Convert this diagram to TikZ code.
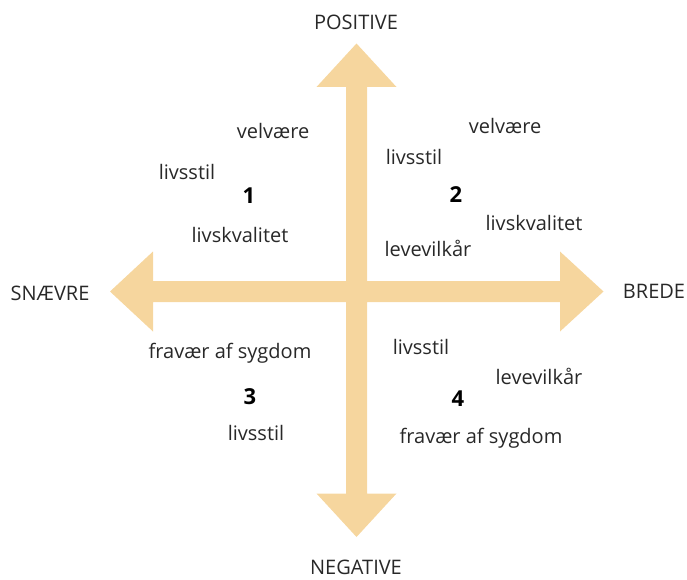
\documentclass[tikz,border=0pt]{standalone}
\usepackage{fontspec}
\setmainfont{Open Sans}
\definecolor{crossfill}{RGB}{246,214,158}
\definecolor{labeltext}{RGB}{40,40,40}

\begin{document}
\begin{tikzpicture}[x=1pt, y=-1pt,
    word/.style={text=labeltext, inner sep=0pt, font=\fontsize{20}{23}\selectfont},
    quad/.style={text=black, inner sep=0pt, font=\fontsize{22}{25}\selectfont\bfseries}]
    \useasboundingbox (0,0) rectangle (687,580);

    % Cross
    \fill[crossfill] (346,87) -- (316.5,87) -- (356.5,43.5) -- (396.5,87) -- (367,87)
        -- (367,281) -- (560,281) -- (560,251.5) -- (603.5,291.5) -- (560,331.5) -- (560,302)
        -- (367,302) -- (367,493.5) -- (396.5,493.5) -- (356.5,537) -- (316.5,493.5) -- (346,493.5)
        -- (346,302) -- (153,302) -- (153,331.5) -- (110,291.5) -- (153,251.5) -- (153,281)
        -- (346,281) -- cycle;
    \node[word] (pos) at (356,22.5) {POSITIVE};
    \node[word] (neg) at (356,567.5) {NEGATIVE};
    \node[word] (snae) at (50,293) {SNÆVRE};
    \node[word] (brede) at (654,291.5) {BREDE};

    % Quadrant 1
    \node[word] (velvA) at (273,131) {velvære};
    \node[word] (livsA) at (187,172) {livsstil};
    \node[quad] (one) at (249,196) {1};
    \node[word] (kvalA) at (240,235) {livskvalitet};

    % Quadrant 2
    \node[word] (velvB) at (505,126) {velvære};
    \node[word] (livsB) at (414,157) {livsstil};
    \node[quad] (two) at (456,195) {2};
    \node[word] (kvalB) at (534,223) {livskvalitet};
    \node[word] (levB) at (428,248) {levevilkår};

    % Quadrant 3
    \node[word] (frav3) at (230,353) {fravær af sygdom};
    \node[quad] (three) at (250,397) {3};
    \node[word] (livs3) at (256,433) {livsstil};

    % Quadrant 4
    \node[word] (livs4) at (421,347) {livsstil};
    \node[word] (lev4) at (539,376) {levevilkår};
    \node[quad] (four) at (458,399) {4};
    \node[word] (frav4) at (481,438) {fravær af sygdom};
\end{tikzpicture}
\end{document}
